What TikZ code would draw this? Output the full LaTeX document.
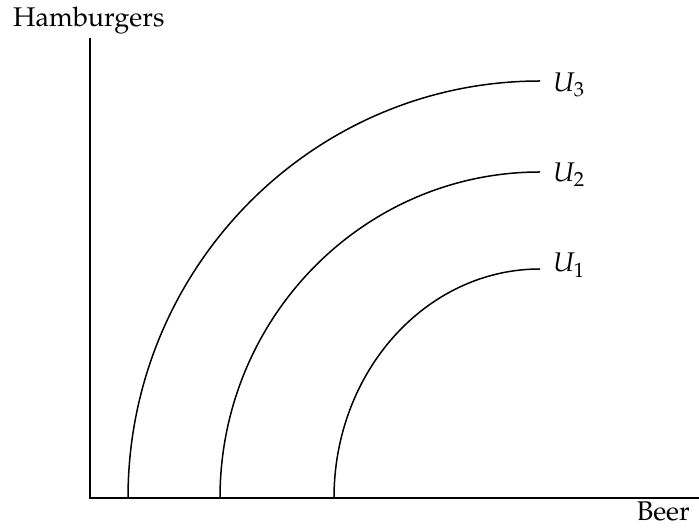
\documentclass[tikz,border=0pt]{standalone}
\usepackage[T1]{fontenc}
\usepackage{mathpazo}

\begin{document}
\begin{tikzpicture}[
  x=1pt, y=1pt,
  axis/.style={line width=2pt, black},
  curve/.style={line width=1.5pt, black},
  lbl/.style={inner sep=0pt, font=\fontsize{27}{32}\selectfont}
]
  \useasboundingbox (0,0) rectangle (699,529);
  \coordinate (origin) at (90,31);
  \coordinate (ytop) at (90,491);
  \coordinate (xend) at (699,31);
  \draw[axis] (ytop) -- (origin) -- (xend);
  % indifference curves, quarter ellipses round (540,31)
  \draw[curve] (334,31) arc[start angle=180, end angle=90, x radius=206pt, y radius=229pt];
  \draw[curve] (220,31) arc[start angle=180, end angle=90, x radius=320pt, y radius=326pt];
  \draw[curve] (128,31) arc[start angle=180, end angle=90, x radius=412pt, y radius=417pt];
  \node[lbl, anchor=base west] (hamb) at (13,502) {Hamburgers};
  \node[lbl, anchor=base east] (beer) at (690,8) {Beer};
  \node[lbl, anchor=base west] (uone) at (553,257) {$U_1$};
  \node[lbl, anchor=base west] (utwo) at (553,347) {$U_2$};
  \node[lbl, anchor=base west] (uthree) at (553,437) {$U_3$};
\end{tikzpicture}
\end{document}
